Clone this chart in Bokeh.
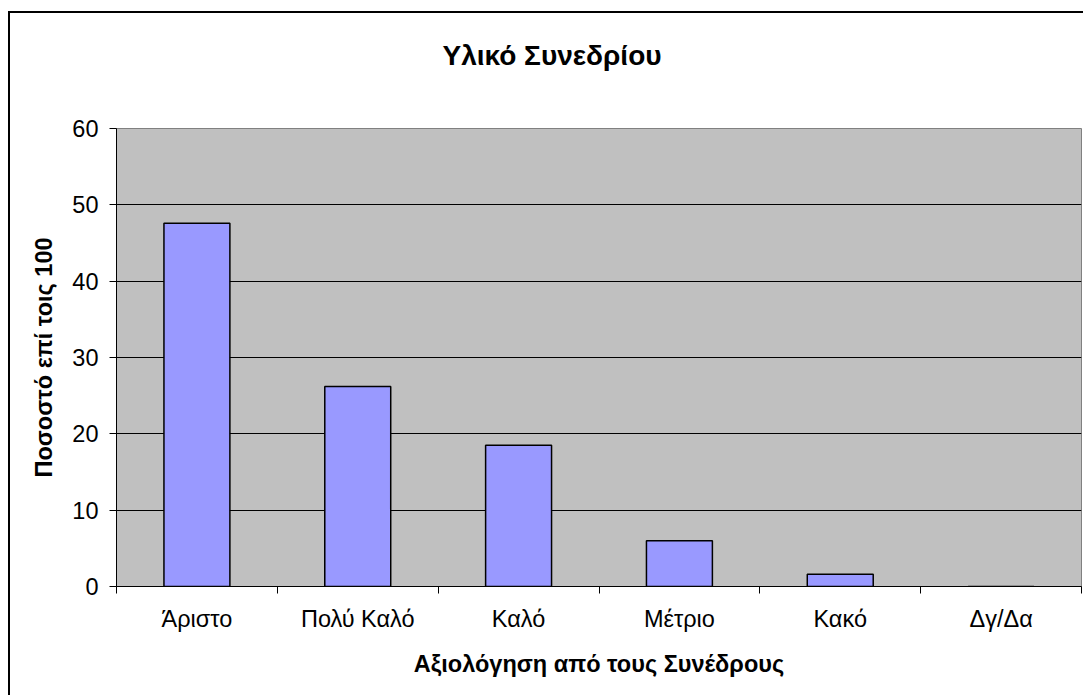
from bokeh.plotting import figure
from bokeh.models import Range1d, FixedTicker, ColumnDataSource, Title
from bokeh.embed import file_html
from bokeh.resources import INLINE

categories = ["Άριστο", "Πολύ Καλό", "Καλό", "Μέτριο", "Κακό", "Δγ/Δα"]
values = [47.6, 26.2, 18.5, 6.0, 1.6, 0.0]
y_ticks = [0, 10, 20, 30, 40, 50, 60]
title_text = "Υλικό Συνεδρίου"
x_label = "Αξιολόγηση από τους Συνέδρους"
y_label = "Ποσοστό επί τοις 100"

FONT = "Liberation Sans"

centers = [i + 0.5 for i in range(len(categories))]
bounds = list(range(len(categories) + 1))

p = figure(width=1075, height=684, output_backend="svg", toolbar_location=None,
           x_range=Range1d(0, len(categories)), y_range=Range1d(y_ticks[0], y_ticks[-1]),
           min_border_left=106, min_border_right=4, min_border_top=115, min_border_bottom=111)
p.styles = {"margin-left": "8px", "margin-top": "11px",
            "border-left": "2px solid black", "border-top": "2px solid black"}

p.background_fill_color = "#C0C0C0"
p.border_fill_color = "white"
p.outline_line_color = "#808080"
p.outline_line_width = 1

src = ColumnDataSource(dict(x=centers, top=values))
p.vbar(x="x", top="top", width=0.41, bottom=0, source=src,
       fill_color="#9999FF", line_color="black", line_width=1.5)

# spacer between the frame and the title
spacer = Title(text=" ", text_font_size="10px", standoff=45)
p.add_layout(spacer, "above")

p.title.text = title_text
p.title.align = "left"
p.title.offset = 326
p.title.standoff = 0
p.title.text_font = FONT
p.title.text_font_size = "28px"
p.title.text_font_style = "bold"
p.title.text_color = "black"

# x axis
xa = p.xaxis[0]
xa.ticker = FixedTicker(ticks=centers, minor_ticks=bounds)
xa.major_label_overrides = {c: lab for c, lab in zip(centers, categories)}
xa.major_tick_line_color = None
xa.minor_tick_line_color = "black"
xa.minor_tick_out = 7
xa.minor_tick_in = 0
xa.axis_line_color = "black"
xa.major_label_text_font = FONT
xa.major_label_text_font_size = "23.5px"
xa.major_label_text_color = "black"
xa.major_label_standoff = 12
xa.axis_label = x_label
xa.axis_label_text_font = FONT
xa.axis_label_text_font_size = "23.5px"
xa.axis_label_text_font_style = "bold"
xa.axis_label_text_color = "black"
xa.axis_label_standoff = 16

# y axis
ya = p.yaxis[0]
ya.ticker = FixedTicker(ticks=y_ticks, minor_ticks=[])
ya.major_tick_out = 7
ya.major_tick_in = 0
ya.major_tick_line_color = "black"
ya.minor_tick_line_color = None
ya.axis_line_color = "black"
ya.major_label_text_font = FONT
ya.major_label_text_font_size = "23.5px"
ya.major_label_text_color = "black"
ya.major_label_standoff = 11
ya.axis_label = y_label
ya.axis_label_text_font = FONT
ya.axis_label_text_font_size = "23.5px"
ya.axis_label_text_font_style = "bold"
ya.axis_label_text_color = "black"
ya.axis_label_standoff = 12

p.xgrid.grid_line_color = None
p.ygrid.grid_line_color = "black"
p.ygrid.grid_line_width = 1

open("out.html", "w").write(file_html(p, INLINE))
